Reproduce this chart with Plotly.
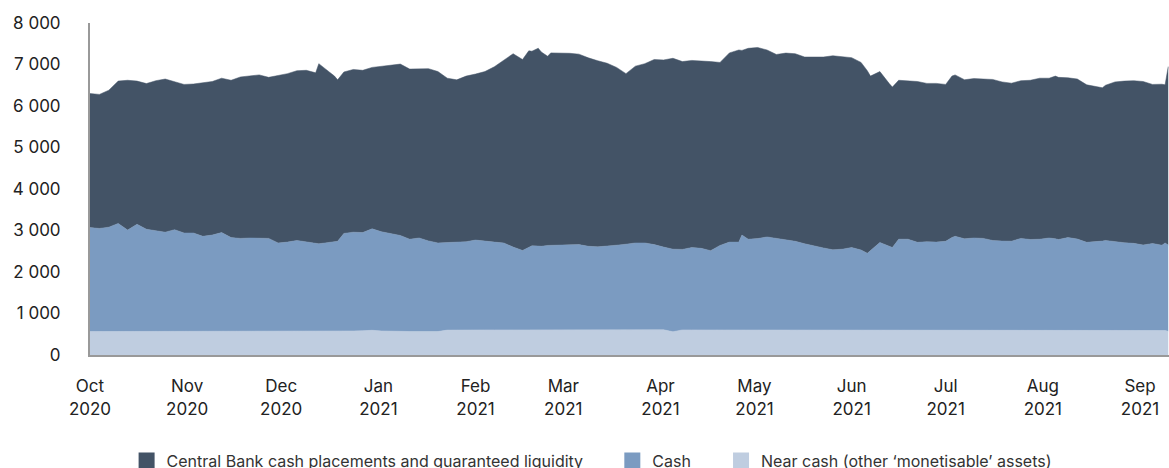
import plotly.graph_objects as go

# Dates (every ~3 days, plus a few extra points at spikes)
dates = [
    "2020-10-01", "2020-10-04", "2020-10-07", "2020-10-10", "2020-10-13", "2020-10-16",
    "2020-10-19", "2020-10-22", "2020-10-25", "2020-10-28", "2020-10-31", "2020-11-03",
    "2020-11-06", "2020-11-09", "2020-11-12", "2020-11-15", "2020-11-18", "2020-11-21",
    "2020-11-24", "2020-11-27", "2020-11-30", "2020-12-03", "2020-12-06", "2020-12-09",
    "2020-12-12", "2020-12-13", "2020-12-15", "2020-12-18", "2020-12-19", "2020-12-21",
    "2020-12-24", "2020-12-27", "2020-12-30", "2021-01-02", "2021-01-05", "2021-01-08",
    "2021-01-11", "2021-01-14", "2021-01-17", "2021-01-20", "2021-01-23", "2021-01-26",
    "2021-01-29", "2021-02-01", "2021-02-04", "2021-02-07", "2021-02-10", "2021-02-13",
    "2021-02-16", "2021-02-18", "2021-02-19", "2021-02-21", "2021-02-22", "2021-02-24",
    "2021-02-25", "2021-02-28", "2021-03-03", "2021-03-06", "2021-03-09", "2021-03-12",
    "2021-03-15", "2021-03-18", "2021-03-21", "2021-03-24", "2021-03-27", "2021-03-30",
    "2021-04-02", "2021-04-05", "2021-04-08", "2021-04-11", "2021-04-14", "2021-04-17",
    "2021-04-20", "2021-04-23", "2021-04-26", "2021-04-27", "2021-04-29", "2021-05-02",
    "2021-05-05", "2021-05-08", "2021-05-11", "2021-05-14", "2021-05-17", "2021-05-20",
    "2021-05-23", "2021-05-26", "2021-05-29", "2021-06-01", "2021-06-04", "2021-06-06",
    "2021-06-07", "2021-06-10", "2021-06-13", "2021-06-14", "2021-06-16", "2021-06-19",
    "2021-06-22", "2021-06-25", "2021-06-28", "2021-07-01", "2021-07-03", "2021-07-04",
    "2021-07-07", "2021-07-10", "2021-07-13", "2021-07-16", "2021-07-19", "2021-07-22",
    "2021-07-25", "2021-07-28", "2021-07-31", "2021-08-03", "2021-08-05", "2021-08-06",
    "2021-08-09", "2021-08-12", "2021-08-15", "2021-08-18", "2021-08-20", "2021-08-21",
    "2021-08-24", "2021-08-27", "2021-08-30", "2021-09-02", "2021-09-05", "2021-09-08",
    "2021-09-09", "2021-09-10",
]

# Stacked levels (top of each band)
total_level = [
    6300, 6280, 6380, 6600, 6620, 6600, 6540, 6610, 6650, 6580, 6520, 6530,
    6560, 6590, 6670, 6620, 6700, 6730, 6750, 6690, 6740, 6780, 6850, 6860,
    6800, 7020, 6900, 6720, 6630, 6820, 6880, 6860, 6930, 6960, 6990, 7010,
    6890, 6900, 6900, 6830, 6670, 6630, 6720, 6770, 6830, 6945, 7100, 7260,
    7120, 7330, 7320, 7394, 7300, 7200, 7280, 7280, 7270, 7250, 7160, 7090,
    7030, 6930, 6780, 6960, 7020, 7120, 7110, 7150, 7070, 7098, 7090, 7070,
    7050, 7280, 7350, 7340, 7390, 7410, 7350, 7242, 7275, 7260, 7180, 7175,
    7180, 7210, 7190, 7165, 7050, 6850, 6720, 6830, 6540, 6455, 6620, 6610,
    6590, 6545, 6545, 6520, 6720, 6750, 6633, 6660, 6650, 6640, 6580, 6550,
    6610, 6620, 6670, 6670, 6720, 6690, 6680, 6650, 6510, 6460, 6440, 6500,
    6580, 6600, 6610, 6590, 6520, 6525, 6510, 6950,
]

cash_level = [
    3070, 3050, 3080, 3170, 3010, 3150, 3030, 2990, 2960, 3020, 2940, 2940,
    2860, 2890, 2950, 2830, 2810, 2820, 2820, 2810, 2700, 2720, 2760, 2720,
    2690, 2680, 2700, 2720, 2740, 2930, 2960, 2950, 3040, 2970, 2930, 2880,
    2790, 2820, 2750, 2700, 2710, 2720, 2730, 2770, 2740, 2720, 2700, 2600,
    2520, 2600, 2630, 2625, 2620, 2640, 2640, 2646, 2655, 2660, 2620, 2606,
    2620, 2646, 2670, 2700, 2700, 2660, 2600, 2550, 2545, 2590, 2570, 2515,
    2640, 2720, 2720, 2890, 2790, 2805, 2845, 2810, 2790, 2740, 2680, 2625,
    2580, 2535, 2550, 2590, 2530, 2450, 2520, 2711, 2620, 2590, 2790, 2790,
    2715, 2730, 2720, 2740, 2830, 2860, 2800, 2820, 2810, 2760, 2745, 2743,
    2810, 2783, 2790, 2820, 2800, 2783, 2830, 2795, 2715, 2725, 2745, 2760,
    2730, 2705, 2690, 2650, 2687, 2646, 2700, 2650,
]

near_cash = [
    565, 565, 565, 565, 565, 565, 565, 565, 565, 565, 565, 565,
    565, 565, 565, 565, 565, 565, 565, 565, 565, 565, 568, 570,
    570, 570, 570, 575, 575, 580, 580, 585, 595, 580, 570, 565,
    565, 565, 565, 565, 600, 605, 605, 605, 605, 605, 605, 605,
    605, 605, 605, 605, 605, 605, 605, 605, 608, 608, 608, 608,
    608, 608, 608, 608, 608, 608, 608, 560, 605, 605, 605, 605,
    605, 605, 605, 605, 605, 605, 605, 605, 605, 600, 600, 600,
    600, 600, 600, 600, 600, 600, 600, 600, 600, 600, 600, 600,
    600, 600, 600, 600, 600, 600, 600, 600, 600, 600, 605, 605,
    605, 605, 608, 608, 608, 608, 608, 608, 608, 608, 608, 608,
    608, 608, 608, 608, 608, 600, 590, 570,
]

tick_dates = ["2020-10-01", "2020-11-01", "2020-12-01", "2021-01-01", "2021-02-01",
              "2021-03-01", "2021-04-01", "2021-05-01", "2021-06-01", "2021-07-01",
              "2021-08-01", "2021-09-01"]
tick_text = ["Oct<br>2020", "Nov<br>2020", "Dec<br>2020", "Jan<br>2021", "Feb<br>2021",
             "Mar<br>2021", "Apr<br>2021", "May<br>2021", "Jun<br>2021", "Jul<br>2021",
             "Aug<br>2021", "Sep<br>2021"]

names = ["Near cash (other \u2018monetisable\u2019 assets)", "Cash",
         "Central Bank cash placements and guaranteed liquidity"]
colors = ["#bfcde0", "#7b9bc1", "#435366"]
levels = [near_cash, cash_level, total_level]
legend_ids = ["legend3", "legend2", "legend"]
legend_x = [0.6168, 0.5238, 0.1083]

fig = go.Figure()
for i, (nm, col, lv) in enumerate(zip(names, colors, levels)):
    fig.add_trace(go.Scatter(
        x=dates, y=lv, name=nm, mode="lines",
        line=dict(color=col, width=0.5),
        fill="tozeroy" if i == 0 else "tonexty",
        fillcolor=col, showlegend=False,
    ))
# legend entries with square swatches
for nm, col, lg in zip(names, colors, legend_ids):
    fig.add_trace(go.Scatter(
        x=[None], y=[None], name=nm, mode="markers",
        marker=dict(symbol="square", size=16, color=col),
        legend=lg, showlegend=True,
    ))

font_family = "Inter, Roboto, 'Noto Sans', sans-serif"
leg_common = dict(orientation="h", xref="container", yref="container",
                  xanchor="left", y=0.016, yanchor="middle",
                  font=dict(size=16, color="#333333"), bgcolor="rgba(0,0,0,0)")
fig.update_layout(
    width=1169, height=468,
    margin=dict(l=90, r=0, t=23, b=113),
    paper_bgcolor="white", plot_bgcolor="white",
    separators=". ",
    font=dict(family=font_family, size=17, color="#222222"),
    showlegend=True,
    legend=dict(x=legend_x[2], **leg_common),
    legend2=dict(x=legend_x[1], **leg_common),
    legend3=dict(x=legend_x[0], **leg_common),
    xaxis=dict(type="date", range=["2020-10-01", "2021-09-10 06:00"],
               tickvals=tick_dates, ticktext=tick_text,
               showgrid=False, zeroline=False,
               showline=True, linecolor="#999999", linewidth=2,
               ticks="", ticklabelstandoff=15),
    yaxis=dict(range=[0, 8000], tickvals=[0, 1000, 2000, 3000, 4000, 5000, 6000, 7000, 8000],
               tickformat=",", showgrid=False, zeroline=False,
               showline=True, linecolor="#999999", linewidth=2,
               ticks="", ticklabelstandoff=24),
)

fig.write_html("out.html", config={"displayModeBar": False},
               post_script="document.body.style.margin='0';document.body.style.overflow='hidden';")
